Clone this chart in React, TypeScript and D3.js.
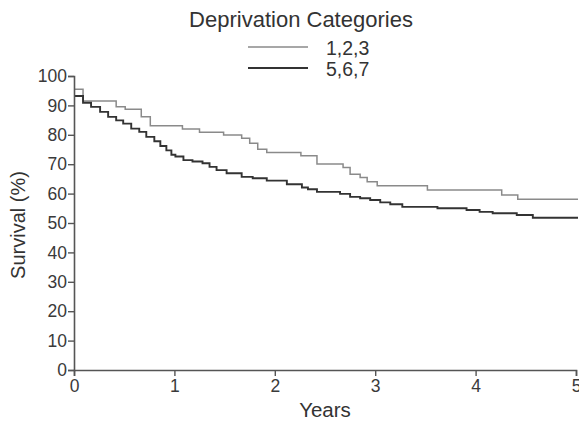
import * as d3 from "d3"
import { useEffect, useRef } from "react"

// Kaplan-Meier curves (years, survival %)
const yearsLow = [0, 0.09, 0.42, 0.51, 0.67, 0.76, 1.08, 1.25, 1.49, 1.67, 1.75, 1.83, 1.92, 2.26, 2.42, 2.68, 2.75, 2.85, 2.92, 3.02, 3.52, 4.26, 4.42, 5.02]
const survLow = [95.5, 91.5, 89.5, 88.7, 86.1, 83.1, 82.0, 80.9, 79.9, 78.8, 77.1, 75.1, 74.0, 72.9, 70.1, 68.9, 66.6, 65.5, 64.0, 62.7, 61.2, 59.5, 58.1, 58.1]

const yearsHigh = [0, 0.09, 0.17, 0.26, 0.34, 0.42, 0.49, 0.57, 0.65, 0.72, 0.80, 0.86, 0.92, 0.97, 1.01, 1.09, 1.18, 1.28, 1.35, 1.42, 1.52, 1.67, 1.78, 1.92, 2.12, 2.27, 2.33, 2.42, 2.65, 2.75, 2.85, 2.95, 3.05, 3.15, 3.27, 3.62, 3.91, 4.04, 4.17, 4.41, 4.57, 5.02]
const survHigh = [93.2, 90.9, 89.5, 87.8, 86.1, 84.9, 83.8, 82.1, 81.0, 79.3, 77.8, 76.2, 74.7, 73.2, 72.6, 71.4, 70.9, 70.3, 69.1, 68.0, 66.9, 65.7, 65.2, 64.4, 63.2, 62.1, 61.5, 60.6, 59.9, 58.9, 58.4, 57.8, 57.0, 56.4, 55.5, 55.0, 54.4, 53.8, 53.3, 52.7, 51.8, 51.8]

const xTicks = [0, 1, 2, 3, 4, 5]
const yTicks = [0, 10, 20, 30, 40, 50, 60, 70, 80, 90, 100]
const groups = ["1,2,3", "5,6,7"]

const font = "'Liberation Sans', Arial, Helvetica, sans-serif"

function App() {
  const xAxisRef = useRef<SVGGElement>(null)
  const yAxisRef = useRef<SVGGElement>(null)

  const x = d3.scaleLinear().domain([0, 5]).range([74, 576])
  const y = d3.scaleLinear().domain([0, 100]).range([370, 76])

  const line = d3.line<[number, number]>()
    .x(d => x(d[0]))
    .y(d => y(d[1]))
    .curve(d3.curveStepAfter)

  const lowPath = line(yearsLow.map((t, i) => [t, survLow[i]]))
  const highPath = line(yearsHigh.map((t, i) => [t, survHigh[i]]))

  useEffect(() => {
    const styleAxis = (g: d3.Selection<SVGGElement, unknown, null, undefined>) => {
      g.select(".domain").attr("stroke", "#555").attr("stroke-width", 1.6)
      g.selectAll(".tick line").attr("stroke", "#555").attr("stroke-width", 1.4)
      g.selectAll(".tick text")
        .attr("fill", "#3a3a3a")
        .style("font-family", font)
        .style("font-size", "17.5px")
    }

    const gx = d3.select(xAxisRef.current!)
    gx.selectAll("*").remove()
    gx.call(d3.axisBottom(x).tickValues(xTicks).tickFormat(d3.format("d")).tickSizeOuter(0).tickSize(6).tickPadding(4))
    styleAxis(gx)

    const gy = d3.select(yAxisRef.current!)
    gy.selectAll("*").remove()
    gy.call(d3.axisLeft(y).tickValues(yTicks).tickFormat(d3.format("d")).tickSizeOuter(0).tickSize(6).tickPadding(1))
    styleAxis(gy)
  }, [])

  return (
    <svg width={579} height={423} style={{ position: "absolute", left: 0, top: 0, background: "#fff" }}>
      <text x={301} y={27} textAnchor="middle" fill="#333" style={{ fontFamily: font, fontSize: "22px" }}>
        Deprivation Categories
      </text>
      {groups.map((g, i) => (
        <g key={g}>
          <line x1={248} x2={308} y1={47 + i * 21} y2={47 + i * 21}
            stroke={i === 0 ? "#8a8a8a" : "#333"} strokeWidth={i === 0 ? 1.4 : 1.8} />
          <text x={326} y={55 + i * 21} fill="#333" style={{ fontFamily: font, fontSize: "19.5px" }}>{g}</text>
        </g>
      ))}

      <path d={lowPath ?? ""} fill="none" stroke="#8a8a8a" strokeWidth={1.5} />
      <path d={highPath ?? ""} fill="none" stroke="#333" strokeWidth={1.9} />

      <g ref={xAxisRef} transform="translate(0,370)" />
      <g ref={yAxisRef} transform="translate(74,0)" />

      <text transform="translate(25,225) rotate(-90)" textAnchor="middle" fill="#333"
        style={{ fontFamily: font, fontSize: "20px" }}>
        Survival (%)
      </text>
      <text x={325} y={417} textAnchor="middle" fill="#333" style={{ fontFamily: font, fontSize: "20.5px" }}>
        Years
      </text>
    </svg>
  )
}

export default App
